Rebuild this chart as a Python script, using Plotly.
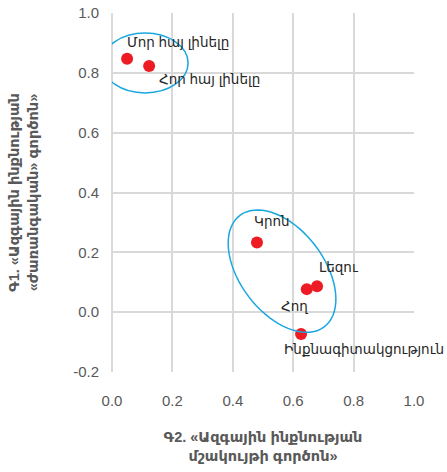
import math
import plotly.graph_objects as go

labels = ["Մոր հայ լինելը", "Հոր հայ լինելը", "Կրոն", "Լեզու", "Հող", "Ինքնագիտակցություն"]
x_vals = [0.05, 0.123, 0.48, 0.679, 0.645, 0.626]
y_vals = [0.847, 0.823, 0.233, 0.087, 0.077, -0.073]
label_shift_x = [-2, 8, -5, 0, -28, -19]
label_shift_y = [16, -14, 21, 19, -17, -15]

x_ticks = [0.0, 0.2, 0.4, 0.6, 0.8, 1.0]
y_ticks = [-0.2, 0.0, 0.2, 0.4, 0.6, 0.8, 1.0]

FONT = "Arial, 'Liberation Sans', 'DejaVu Sans', sans-serif"
GRAY = "#595959"

fig = go.Figure()
fig.add_trace(go.Scatter(
    x=x_vals, y=y_vals, mode="markers",
    marker=dict(color="#ED1C24", size=12, line=dict(width=0)),
    showlegend=False, cliponaxis=False,
))

for lab, xv, yv, sx, sy in zip(labels, x_vals, y_vals, label_shift_x, label_shift_y):
    fig.add_annotation(x=xv, y=yv, text=lab, showarrow=False, xanchor="left",
                       yanchor="middle", xshift=sx, yshift=sy,
                       font=dict(family=FONT, size=13.5, color="#262626"))

# ellipse around the top pair
fig.add_shape(type="circle", xref="x", yref="y",
              x0=-0.033, x1=0.252, y0=0.733, y1=0.933,
              line=dict(color="#1AA7E0", width=1.5))

# rotated ellipse around the lower group (pixel scale -> data)
px_x, px_y = 302.0, 300.0
cx, cy = 0.563, 0.137
a, b, th = 70.0, 42.0, math.radians(53)
pts = []
for i in range(73):
    t = 2 * math.pi * i / 72
    dx = a * math.cos(t) * math.cos(th) - b * math.sin(t) * math.sin(th)
    dy = a * math.cos(t) * math.sin(th) + b * math.sin(t) * math.cos(th)
    pts.append((cx + dx / px_x, cy - dy / px_y))
path = "M " + " L ".join(f"{p[0]:.4f},{p[1]:.4f}" for p in pts) + " Z"
fig.add_shape(type="path", path=path, xref="x", yref="y",
              line=dict(color="#1AA7E0", width=1.5))

axis_common = dict(showgrid=True, gridcolor="#D9D9D9", gridwidth=2,
                   zeroline=True, zerolinecolor="#D9D9D9", zerolinewidth=2,
                   showline=False, ticks="", automargin=False,
                   tickfont=dict(family=FONT, size=15, color=GRAY))

fig.update_layout(
    width=447, height=472,
    margin=dict(l=112, r=33, t=13, b=100),
    paper_bgcolor="white", plot_bgcolor="white",
    xaxis=dict(range=[0, 1.0], tickvals=x_ticks, ticktext=[f"{v:.1f}" for v in x_ticks],
               ticklabelstandoff=18,
               title=dict(text="Գ2. «Ազգային ինքնության<br>մշակույթի գործոն»",
                          font=dict(family=FONT, size=14.5, color=GRAY, weight="bold"), standoff=23),
               **axis_common),
    yaxis=dict(range=[-0.2, 1.0], tickvals=y_ticks, ticktext=[f"{v:.1f}" for v in y_ticks],
               ticklabelstandoff=12,
               title=dict(text="Գ1. «Ազգային ինքնության<br>«ժառանգական» գործոն»",
                          font=dict(family=FONT, size=14.5, color=GRAY, weight="bold"), standoff=31),
               **axis_common),
)

fig.write_html("out.html", config={"displayModeBar": False},
               post_script="document.body.style.margin='0';")
